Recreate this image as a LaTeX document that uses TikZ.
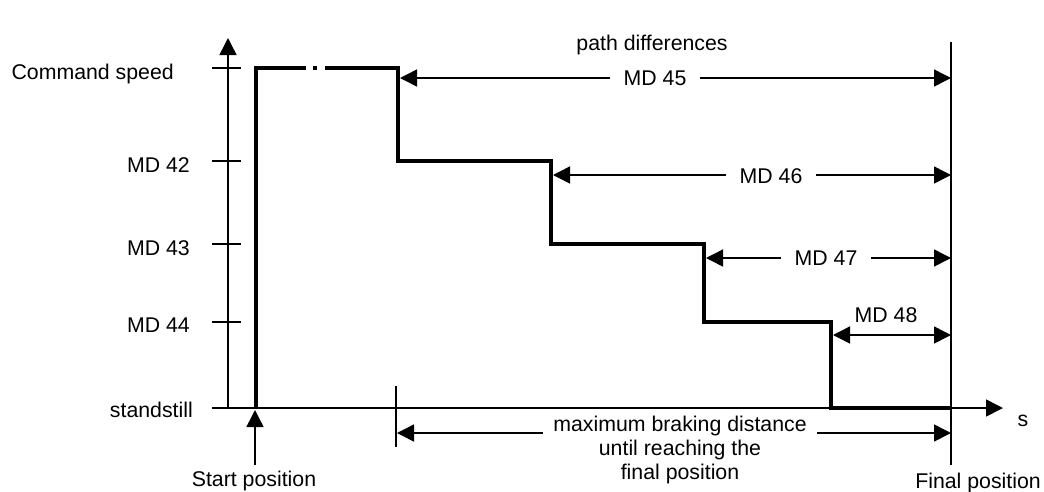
\documentclass[tikz,border=0pt]{standalone}
\usepackage{fontspec}
\setmainfont{Liberation Sans}
\usetikzlibrary{arrows.meta}
\begin{document}
\begin{tikzpicture}[x=1pt,y=-1pt,
  thinline/.style={line width=1.5pt},
  profile/.style={line width=4.5pt,line join=miter,line cap=butt},
  tipend/.style={thinline,-{Triangle[length=17pt,width=17pt]}},
  lbl/.style={font=\fontsize{21.3}{24}\selectfont,inner sep=0pt},
  gaplbl/.style={lbl,inner xsep=13pt},
]
\useasboundingbox (0,0) rectangle (1044,491);
% axes
\coordinate (xs) at (212,408);
\coordinate (xe) at (1003,408);
\coordinate (ys) at (228,408);
\coordinate (ye) at (228,38);
\draw[tipend] (xs) -- (xe);
\draw[tipend] (ys) -- (ye);
% ticks
\foreach \yy/\nm in {68/t0,161/t1,244/t2,322/t3}{
  \coordinate (\nm a) at (212,\yy);
  \coordinate (\nm b) at (241,\yy);
  \draw[thinline] (\nm a) -- (\nm b);
}
% axis labels
\node[lbl,anchor=base east] (lcs) at (174,79) {Command speed};
\node[lbl,anchor=base east] (l42) at (190,172.5) {MD 42};
\node[lbl,anchor=base east] (l43) at (190,255.5) {MD 43};
\node[lbl,anchor=base east] (l44) at (190,332.5) {MD 44};
\node[lbl,anchor=base east] (lst) at (193,417.5) {standstill};
\node[lbl,anchor=base] (ls) at (1023,426) {s};
% final position line
\coordinate (ft) at (951,42);
\coordinate (fb) at (951,465);
\draw[thinline] (ft) -- (fb);
\node[lbl,anchor=base] (lfp) at (978,488) {Final position};
% start position
\coordinate (sp) at (255,465);
\coordinate (spt) at (255,410);
\draw[tipend] (sp) -- (spt);
\node[lbl,anchor=base] (lsp) at (254,486) {Start position};
% speed profile
\coordinate (P0) at (256,408);
\coordinate (P1) at (256,68);
\coordinate (G1) at (306,68);
\coordinate (D1) at (313,68);
\coordinate (D2) at (317,68);
\coordinate (G2) at (325,68);
\coordinate (P2) at (398,68);
\coordinate (P3) at (398,161);
\coordinate (P4) at (551,161);
\coordinate (P5) at (551,244);
\coordinate (P6) at (704,244);
\coordinate (P7) at (704,322);
\coordinate (P8) at (831,322);
\coordinate (P9) at (831,408);
\coordinate (P10) at (951,408);
\draw[profile] (P0) -- (P1) -- (G1);
\draw[profile] (D1) -- (D2);
\draw[profile] (G2) -- (P2) -- (P3) -- (P4) -- (P5) -- (P6) -- (P7) -- (P8) -- (P9) -- (P10);
% path differences
\node[lbl,anchor=base] (lpd) at (652,50) {path differences};
% MD 45
\coordinate (a45) at (400,78);
\coordinate (b45) at (951,78);
\node[gaplbl] (m45) at (655,78) {MD 45};
\draw[tipend] (m45.west) -- (a45);
\draw[tipend] (m45.east) -- (b45);
% MD 46
\coordinate (a46) at (553,175);
\coordinate (b46) at (951,175);
\node[gaplbl] (m46) at (771,176) {MD 46};
\draw[tipend] (m46.west |- a46) -- (a46);
\draw[tipend] (m46.east |- b46) -- (b46);
% MD 47
\coordinate (a47) at (706,258);
\coordinate (b47) at (951,258);
\node[gaplbl] (m47) at (826,258) {MD 47};
\draw[tipend] (m47.west |- a47) -- (a47);
\draw[tipend] (m47.east |- b47) -- (b47);
% MD 48
\coordinate (a48) at (833,335);
\coordinate (b48) at (951,335);
\node[lbl] (m48) at (886,315) {MD 48};
\draw[thinline,{Triangle[length=17pt,width=17pt]}-{Triangle[length=17pt,width=17pt]}] (a48) -- (b48);
% braking distance
\coordinate (bt) at (396,386);
\coordinate (bb) at (396,447);
\draw[thinline] (bt) -- (bb);
\coordinate (ba) at (397,433);
\coordinate (bz) at (951,433);
\node[lbl,anchor=base,inner xsep=10pt] (b1) at (680,431.5) {maximum braking distance};
\node[lbl,anchor=base] (b2) at (680,455.5) {until reaching the};
\node[lbl,anchor=base] (b3) at (680,479.5) {final position};
\draw[tipend] (b1.west |- ba) -- (ba);
\draw[tipend] (b1.east |- bz) -- (bz);
\end{tikzpicture}
\end{document}
